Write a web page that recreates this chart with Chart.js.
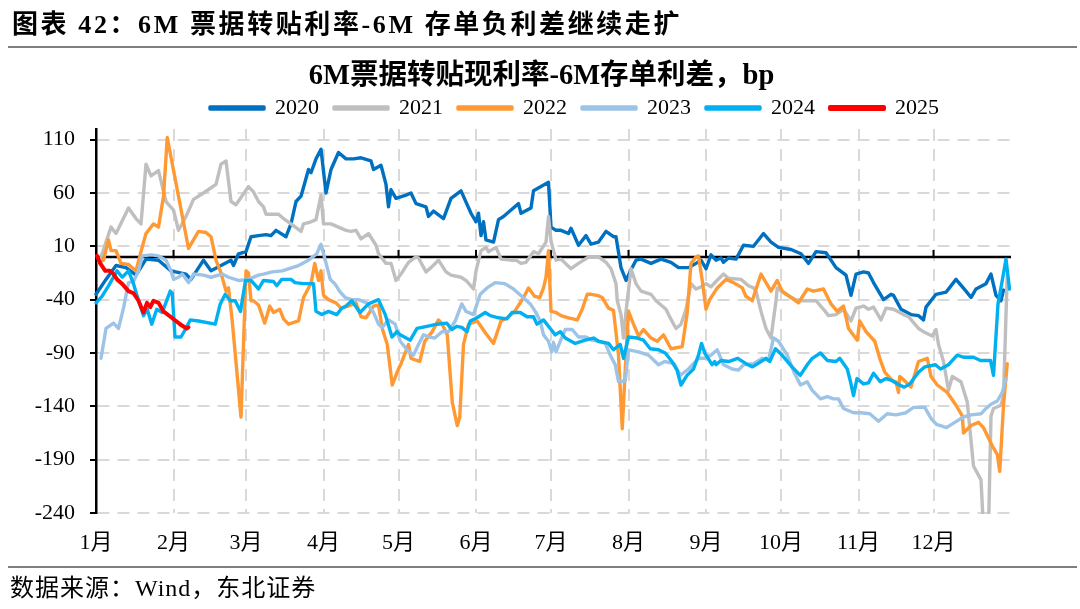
<!DOCTYPE html>
<html><head><meta charset="utf-8">
<script src="https://cdn.jsdelivr.net/npm/chart.js@4.4.1/dist/chart.umd.min.js"></script>
<style>
html,body{margin:0;padding:0;background:#fff;}
body{width:1080px;height:609px;position:relative;overflow:hidden;font-family:"Liberation Serif","Noto Sans CJK SC",serif;color:#000;}
#wrap{position:absolute;left:0;top:0;width:1080px;height:609px;}
#hdr{position:absolute;left:12px;top:7px;font-size:26px;font-weight:bold;letter-spacing:2.6px;line-height:36px;white-space:nowrap;}
.rule{position:absolute;left:8px;width:1069px;height:2px;background:#7f7f7f;}
#src{position:absolute;left:10px;top:573px;font-size:24px;letter-spacing:1px;line-height:30px;white-space:nowrap;}
</style></head>
<body>
<div id="wrap"><canvas id="c" width="1080" height="609"></canvas></div>
<div id="hdr">图表 42：6M 票据转贴利率-6M 存单负利差继续走扩</div>
<div class="rule" style="top:46px"></div>
<div class="rule" style="top:566px"></div>
<div id="src">数据来源：Wind，东北证券</div>
<script>
const monthStarts = [0,31,60,91,121,152,182,213,244,274,305,335];
const monthLabels = ['1月','2月','3月','4月','5月','6月','7月','8月','9月','10月','11月','12月'];
const yTicks = [-240,-190,-140,-90,-40,10,60,110];
const seriesNames = ['2020','2021','2022','2023','2024','2025'];
const seriesColors = ['#0070C0','#BFBFBF','#FF9933','#9DC3E6','#00B0F0','#FF0000'];

const s2020 = [[0,-35],[4,-21],[8,-8],[12,-10],[16,-17],[20,-2],[25,-3],[30,-13],[36,-16],[38,-21],[43,-3],[46,-13],[50,-8],[54,-3],[55,-8],[57,3],[60,5],[62,19],[65,20],[68,21],[70,20],[72,25],[76,19],[78,31],[80,52],[82,57],[85,82],[86,79],[88,92],[90,101],[92,60],[94,82],[97,98],[100,92],[103,92],[106,93],[110,90],[111,82],[114,86],[116,68],[117,47],[118,63],[120,55],[124,58],[126,60],[128,50],[132,47],[133,38],[135,43],[139,36],[142,55],[146,62],[150,41],[152,33],[153,41],[154,20],[155,33],[156,16],[159,14],[161,35],[163,38],[166,44],[169,50],[170,41],[174,46],[175,62],[178,66],[181,70],[182,28],[184,25],[186,25],[189,22],[190,27],[193,11],[196,20],[198,12],[201,14],[204,24],[207,19],[208,19],[210,-10],[212,-22],[214,-12],[216,-3],[218,-2],[222,-6],[226,-2],[230,-5],[233,-10],[237,-10],[240,-6],[242,-3],[244,-11],[246,2],[248,-3],[250,-1],[251,-5],[253,-1],[256,-2],[259,11],[263,10],[267,22],[270,14],[273,9],[278,7],[282,3],[285,-6],[288,5],[292,4],[296,-10],[300,-17],[302,-36],[304,-16],[307,-14],[309,-15],[311,-24],[315,-40],[318,-35],[319,-36],[322,-49],[326,-54],[329,-55],[331,-59],[332,-47],[336,-35],[340,-33],[344,-21],[348,-32],[350,-38],[352,-30],[356,-25],[358,-16],[360,-36],[362,-41],[363,-31]];

const s2021 = [[2,0],[6,28],[8,22],[13,46],[16,36],[18,31],[20,87],[22,76],[25,81],[28,52],[31,44],[33,25],[36,38],[39,54],[43,60],[48,68],[50,87],[52,90],[54,52],[56,49],[61,66],[63,61],[65,52],[67,47],[68,40],[70,40],[73,40],[75,36],[78,31],[82,24],[83,31],[86,33],[88,35],[90,58],[91,31],[94,31],[97,28],[100,25],[102,24],[104,25],[106,17],[109,22],[112,11],[113,3],[116,-6],[118,-6],[120,-22],[122,-16],[125,-5],[128,0],[129,-1],[132,-14],[134,-10],[137,-3],[140,-14],[142,-17],[146,-19],[148,-22],[151,-30],[152,-13],[154,6],[156,9],[157,5],[160,9],[162,-2],[166,-3],[168,-3],[170,-6],[172,-5],[175,5],[177,3],[180,14],[181,38],[182,15],[184,-3],[186,-2],[190,-11],[193,-6],[197,0],[201,0],[204,-5],[206,-11],[208,-25],[208.5,-41],[210,-54],[211,-76],[212,-51],[214,-11],[216,-25],[218,-32],[222,-35],[224,-41],[228,-49],[229,-54],[232,-67],[234,-63],[236,-49],[238,-25],[240,-30],[242,-28],[244,-25],[246,-28],[248,-23],[251,-16],[253,-20],[258,-21],[261,-27],[263,-29],[264,-32],[266,-51],[268,-67],[270,-76],[272,-41],[272.5,-29],[276,-35],[280,-40],[283,-41],[288,-41],[291,-49],[293,-55],[296,-54],[299,-49],[302,-60],[304,-48],[307,-46],[309,-49],[311,-47],[314,-59],[316,-48],[319,-49],[323,-54],[325,-56],[329,-67],[331,-70],[334.5,-74],[336,-68],[337,-82],[339,-98],[341,-125],[342.5,-112],[346,-117],[348.5,-136],[351,-196],[354,-209],[355,-255],[357,-255],[358,-149],[359,-142],[362,-139],[363,-130],[364.5,-16]];

const s2022 = [[1,-5],[3,-3],[5,16],[6,6],[8,6],[10,-6],[13,-7],[16,-13],[18,5],[20,22],[23,31],[25,28],[27,57],[28.5,112],[37,8],[41,24],[44,23],[46,19],[48,-3],[50,-15],[52,-32],[53,-29],[54.5,-60],[58,-150],[60,-13],[61,-15],[62,-41],[63,-41],[65,-45],[67.5,-62],[69.5,-46],[71,-52],[73.5,-49],[75,-58],[77,-63],[81,-60],[83,-38],[85,-29],[86,-25],[87.5,-6],[89,-22],[90,-13],[91,-36],[93,-40],[96,-43],[98,-48],[101,-46],[104,-43],[106,-56],[108,-57],[111,-46],[113,-45],[114.5,-67],[116.5,-82],[118.5,-120],[121,-105],[122,-100],[125,-82],[126,-95],[129.5,-98],[131.5,-79],[134.5,-70],[137,-59],[138.5,-63],[140.5,-73],[142.5,-136],[144.5,-158],[145.5,-150],[147,-82],[149,-63],[152.5,-60],[156,-72],[159,-81],[161,-67],[162,-60],[164.5,-57],[167.5,-51],[171,-38],[173,-29],[175.5,-37],[177.5,-38],[179,-29],[180,-19],[181,6],[182,-51],[184,-52],[186,-55],[189,-57],[192.5,-59],[194.5,-49],[196.5,-35],[198,-35],[200.5,-36],[202.5,-38],[205,-48],[207,-50],[209,-92],[210.5,-161],[212,-92],[213,-51],[215,-63],[217,-74],[219,-68],[222,-76],[224.5,-79],[227,-73],[230,-86],[234.5,-84],[236.5,-52],[238,-6],[240,0],[241,1],[242.5,-22],[244,-49],[245.5,-40],[248.5,-29],[252,-21],[255,-24],[258.5,-29],[260,-37],[262.5,-41],[266,-16],[270,-32],[272.5,-22],[274.5,-32],[278,-38],[281,-43],[284.5,-30],[287,-32],[291,-30],[294,-44],[296.5,-51],[299,-46],[301,-67],[304.5,-78],[305.5,-60],[308,-70],[311.5,-79],[313.5,-95],[315.5,-108],[318.5,-116],[320,-117],[321,-127],[321.5,-112],[323,-115],[326,-122],[329,-98],[332.5,-95],[334,-112],[336.5,-120],[340.5,-127],[344,-139],[346.5,-149],[347,-165],[350,-158],[353,-155],[355,-160],[358.5,-177],[360.5,-185],[361.5,-201],[363,-139],[364.5,-100]];

const s2023 = [[2,-95],[4,-67],[7,-62],[9,-67],[11,-48],[13,-24],[15,-23],[17,-13],[18.5,1],[22,2],[25,1],[28,-3],[30,-13],[31,-21],[33,-19],[34.5,-16],[37,-24],[39,-16],[43,-17],[46,-19],[50.5,-16],[53,-19],[57,-22],[61,-21],[65,-17],[67,-16],[70.5,-14],[74.5,-13],[78.5,-10],[81,-8],[85,-3],[88.3,3],[90,12],[91.7,-3],[93.7,-21],[95.5,-25],[97.7,-33],[99.7,-38],[102.3,-40],[105,-40],[108.3,-43],[111,-52],[113,-63],[114.5,-66],[117,-59],[119.7,-63],[120.7,-72],[121.7,-79],[124.4,-87],[127,-92],[129,-82],[131,-73],[133.5,-75],[135.5,-76],[138.4,-70],[141,-70],[143.7,-60],[146.3,-44],[148,-51],[151,-54],[153.7,-35],[156.4,-29],[159.7,-24],[163.5,-25],[167,-30],[170.4,-37],[173.7,-44],[175.7,-51],[177.7,-60],[179,-73],[181,-79],[182.3,-89],[183,-80],[184,-89],[185.7,-79],[187.7,-68],[190.5,-68],[193,-75],[196,-75],[198.4,-78],[201,-79],[203.7,-81],[205.7,-92],[207.7,-101],[209,-117],[211.7,-116],[213,-87],[217,-89],[221,-92],[225,-101],[227.5,-98],[231.3,-100],[233.7,-111],[237,-105],[241,-95],[243.5,-95],[246,-92],[248.5,-87],[251,-101],[254.5,-105],[257,-106],[259,-101],[263,-100],[266.4,-95],[269,-97],[271,-76],[273,-79],[276.5,-92],[279.2,-108],[281.8,-120],[284.5,-117],[286.5,-125],[289.8,-133],[292.5,-131],[295,-133],[297,-133],[299,-142],[303,-146],[306,-146],[309.5,-147],[313,-154],[316.5,-147],[320,-148],[324,-146],[327,-141],[331.5,-141],[334.2,-152],[336.2,-157],[340.2,-160],[343.5,-155],[347,-150],[350,-148],[354,-147],[356,-142],[358,-138],[360.5,-135],[362.5,-127],[364,-114]];

const s2024 = [[0,-43],[2.4,-37],[5,-27],[8.4,-13],[10.5,-19],[13,-13],[15,-25],[17,-41],[19,-55],[20.5,-49],[22.3,-63],[24.3,-49],[26.5,-52],[29.7,-32],[30.5,-34],[31.6,-75],[34,-75],[35.7,-68],[37.7,-59],[41,-60],[47.7,-63],[49.7,-44],[51.7,-35],[53.7,-41],[55.7,-41],[57.8,-51],[59.8,-22],[62,-22],[65,-30],[67,-22],[71,-23],[72.3,-27],[74.3,-21],[78,-21],[79.6,-24],[83,-25],[87,-25],[88,-51],[90.3,-54],[93,-51],[96.3,-54],[98.3,-48],[100,-46],[102.3,-41],[105.6,-52],[109,-44],[113,-40],[115.7,-54],[118.4,-75],[120.4,-70],[121.7,-73],[125.7,-78],[128.4,-67],[132.4,-65],[136.4,-63],[140.3,-62],[142.3,-68],[144.3,-65],[146.3,-66],[148.4,-70],[149.7,-60],[152.4,-57],[155.7,-52],[157.7,-55],[161,-57],[164.3,-58],[166.4,-52],[169.7,-52],[172.4,-56],[175,-56],[176.4,-63],[179,-59],[181.7,-67],[183.7,-73],[185.7,-70],[187.7,-76],[191.7,-81],[195.7,-78],[199,-76],[201,-79],[205,-81],[207,-87],[209.7,-82],[211,-95],[213,-75],[216.5,-76],[219,-78],[221.7,-86],[225,-87],[227.7,-90],[230.4,-98],[232.4,-106],[234,-120],[236.4,-111],[239,-105],[241,-92],[242.2,-81],[243.5,-90],[246.4,-101],[247.5,-98],[248,-101],[250,-97],[253,-98],[256.7,-95],[260,-100],[262.6,-103],[266,-98],[268,-95],[269.5,-98],[271.8,-86],[274.4,-92],[278.4,-103],[281.7,-111],[284.5,-101],[286.5,-95],[289.8,-90],[292.5,-97],[296,-98],[297.5,-95],[300.5,-105],[301.8,-117],[303,-130],[304.4,-114],[307,-119],[309,-118],[311,-109],[313.7,-117],[316,-114],[318.5,-116],[321.3,-120],[323.3,-122],[325.5,-119],[329,-108],[331.5,-103],[335.8,-101],[337.8,-105],[341,-101],[344.5,-92],[347,-94],[351,-94],[353.8,-97],[357.8,-97],[359,-111],[360.8,-44],[362.5,-22],[364,-2],[365.4,-30]];

const s2025 = [[0.4,1],[1.7,-6],[3.7,-13],[5.5,-13],[7,-16],[8.4,-21],[10.4,-25],[13,-32],[15,-34],[17,-41],[19,-52],[20.4,-43],[21.7,-47],[23,-41],[25,-43],[27,-51],[30.3,-57],[33.6,-63],[36.3,-67],[37,-66]];

const allSeries = [s2020,s2021,s2022,s2023,s2024,s2025];
const seriesWidths = [3.4,3.4,3.4,3.4,3.4,4];
const FONT = "'Liberation Serif','Noto Sans CJK SC',serif";
const LEGEND_DX = 64;
const TITLE_DX = 31;

const zeroLine = {
  id:'zeroLine',
  beforeDatasetsDraw(chart){
    const {ctx, chartArea, scales:{x,y}} = chart;
    const py = y.getPixelForValue(0);
    ctx.save();
    ctx.strokeStyle = '#000';
    ctx.lineWidth = 2.5;
    ctx.beginPath(); ctx.moveTo(chartArea.left, py); ctx.lineTo(x.getPixelForValue(366), py); ctx.stroke();
    ctx.lineWidth = 2;
    monthStarts.slice(1).forEach(m => {
      const px = x.getPixelForValue(m);
      ctx.beginPath(); ctx.moveTo(px, py); ctx.lineTo(px, py - 7); ctx.stroke();
    });
    ctx.restore();
  }
};
const boxShift = {
  id:'boxShift',
  afterLayout(chart){
    const L = chart.legend; if (L) { L.left += LEGEND_DX; L.right += LEGEND_DX; }
    const T = chart.titleBlock; if (T) { T.left += TITLE_DX; T.right += TITLE_DX; }
  }
};

new Chart(document.getElementById('c'), {
  type:'line',
  data:{
    datasets: allSeries.map((s,i) => ({
      label: seriesNames[i],
      data: s.map(p => ({x:p[0], y:p[1]})),
      borderColor: seriesColors[i],
      backgroundColor: seriesColors[i],
      borderWidth: seriesWidths[i],
      pointRadius: 0,
      tension: 0,
      fill: false,
      borderJoinStyle: 'round',
      borderCapStyle: 'round',
      order: 5 - i,
      clip: {left: 2, top: 10, right: 4, bottom: 1}
    }))
  },
  options:{
    responsive:false,
    animation:false,
    events:[],
    layout:{padding:{left:10, right:69, top:0, bottom:51}},
    plugins:{
      title:{display:true, text:'6M票据转贴现利率-6M存单利差，bp', color:'#000',
        font:{family:FONT, size:28.5, weight:'bold', lineHeight:0.35}, padding:{top:72, bottom:0}},
      legend:{display:true, position:'top',
        labels:{boxWidth:54, boxHeight:2, padding:15, color:'#000', font:{family:FONT, size:22},
          sort:(a,b)=>a.datasetIndex-b.datasetIndex}},
      tooltip:{enabled:false}
    },
    scales:{
      x:{type:'linear', min:0, max:366,
        afterBuildTicks:(sc)=>{ sc.ticks = monthStarts.map(v=>({value:v})); },
        afterFit:(sc)=>{ sc.height = 45; },
        ticks:{autoSkip:false, maxRotation:0, minRotation:0, padding:17, color:'#000',
          font:{family:FONT, size:22},
          callback:(v)=>{ const k = monthStarts.indexOf(v); return k >= 0 ? monthLabels[k] : ''; }},
        grid:{drawTicks:false, lineWidth:2, color:(c)=> (c.tick && c.tick.value === 0) ? 'rgba(0,0,0,0)' : '#D9D9D9'},
        border:{display:false, dash:[12,8]}
      },
      y:{type:'linear', min:-240, max:120,
        afterBuildTicks:(sc)=>{ sc.ticks = yTicks.map(v=>({value:v})); },
        afterFit:(sc)=>{ sc.width = 86; },
        ticks:{padding:15, color:'#000', font:{family:FONT, size:22}},
        grid:{drawTicks:true, tickLength:6, tickColor:'#000', tickWidth:2, lineWidth:2, color:'#D9D9D9'},
        border:{display:true, color:'#000', width:2.5, dash:[12,8]}
      }
    }
  },
  plugins:[zeroLine, boxShift]
});
</script>
</body></html>
